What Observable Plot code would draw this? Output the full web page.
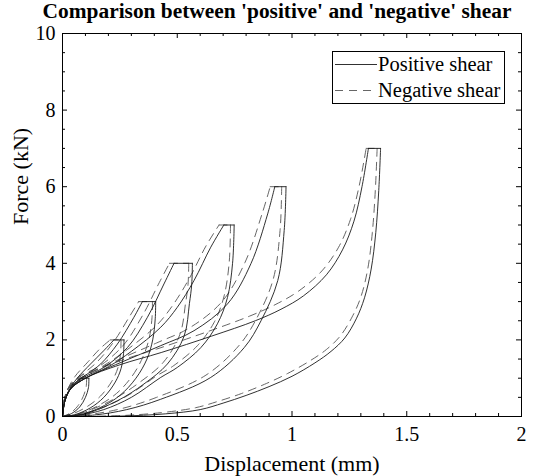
<!DOCTYPE html>
<html><head><meta charset="utf-8">
<script src="https://cdn.jsdelivr.net/npm/d3@7"></script>
<script src="https://cdn.jsdelivr.net/npm/@observablehq/plot@0.6"></script>
<style>
body{margin:0;background:#fff;}
#wrap{position:relative;width:541px;height:476px;font-family:"Liberation Serif","DejaVu Serif",serif;}
#wrap svg text{font-family:"Liberation Serif","DejaVu Serif",serif;}
#legend{position:absolute;left:0;top:0;}
</style></head><body><div id="wrap"></div>
<script>
// Peak force of each loading cycle (kN)
const cyclePeaks = [1, 2, 3, 4, 5, 6, 7];
const seriesNames = ["Positive shear", "Negative shear"];
const title = "Comparison between 'positive' and 'negative' shear";
const xLabel = "Displacement (mm)";
const yLabel = "Force (kN)";

// Positive shear loops: [displacement (mm), force (kN)] — loading, plateau at peak, unloading
const pos1 = [[0,0],[0.008,0.35],[0.025,0.65],[0.05,0.85],[0.08,1.0],[0.115,1.0],[0.113,0.75],[0.1,0.5],[0.075,0.25],[0.04,0.08],[0,0]];
const pos2 = [[0,0],[0.01,0.4],[0.03,0.7],[0.064,1.0],[0.122,1.37],[0.18,1.72],[0.224,2.0],[0.268,2.0],[0.266,1.65],[0.255,1.25],[0.23,0.9],[0.18,0.5],[0.12,0.22],[0.05,0.04],[0,0]];
const pos3 = [[0,0],[0.01,0.4],[0.035,0.72],[0.07,0.95],[0.108,1.11],[0.166,1.37],[0.239,1.89],[0.311,2.59],[0.348,3.0],[0.406,3.0],[0.404,2.55],[0.393,2.0],[0.368,1.5],[0.32,1.0],[0.25,0.55],[0.16,0.22],[0.07,0.04],[0,0]];
const pos4 = [[0,0],[0.01,0.4],[0.035,0.72],[0.093,1.02],[0.18,1.28],[0.283,1.8],[0.37,2.59],[0.442,3.46],[0.486,4.0],[0.566,4.0],[0.563,3.45],[0.553,2.95],[0.53,2.1],[0.457,1.37],[0.355,0.85],[0.239,0.41],[0.093,0.06],[0,0]];
const pos5 = [[0,0],[0.01,0.4],[0.035,0.72],[0.1,1.0],[0.2,1.3],[0.3,1.7],[0.428,2.33],[0.5,2.85],[0.573,3.55],[0.646,4.42],[0.703,5.0],[0.748,5.0],[0.741,4.0],[0.719,3.11],[0.675,2.42],[0.603,1.8],[0.5,1.28],[0.428,1.02],[0.3,0.5],[0.18,0.18],[0.07,0.03],[0,0]];
const pos6 = [[0,0],[0.01,0.4],[0.035,0.72],[0.1,1.0],[0.25,1.4],[0.428,1.85],[0.573,2.24],[0.719,2.94],[0.821,3.99],[0.894,5.29],[0.925,6.0],[0.974,6.0],[0.966,4.86],[0.938,3.55],[0.865,2.5],[0.792,1.8],[0.646,1.02],[0.428,0.45],[0.28,0.18],[0.14,0.04],[0,0]];
const pos7 = [[0,0],[0.01,0.4],[0.035,0.72],[0.1,1.0],[0.25,1.35],[0.43,1.67],[0.65,2.1],[0.84,2.5],[0.952,2.8],[1.05,3.15],[1.15,3.7],[1.22,4.35],[1.27,5.1],[1.305,6.0],[1.333,7.0],[1.386,7.0],[1.378,5.9],[1.365,4.8],[1.345,3.85],[1.316,3.1],[1.28,2.55],[1.23,2.05],[1.17,1.7],[1.1,1.4],[1.0,1.05],[0.9,0.78],[0.8,0.55],[0.7,0.35],[0.6,0.18],[0.45,0.07],[0.25,0.01],[0,0]];

// Negative shear loops: [displacement (mm), force (kN)]
const neg1 = [[0,0],[0.006,0.38],[0.02,0.68],[0.045,0.9],[0.07,1.0],[0.105,1.0],[0.103,0.77],[0.09,0.52],[0.066,0.27],[0.034,0.09],[0,0]];
const neg2 = [[0,0],[0.008,0.43],[0.025,0.74],[0.055,1.05],[0.11,1.42],[0.165,1.78],[0.208,2.0],[0.255,2.0],[0.253,1.66],[0.242,1.28],[0.215,0.92],[0.165,0.53],[0.105,0.25],[0.04,0.06],[0,0]];
const neg3 = [[0,0],[0.008,0.43],[0.028,0.75],[0.06,0.98],[0.095,1.14],[0.15,1.42],[0.222,1.94],[0.295,2.64],[0.332,3.0],[0.392,3.0],[0.39,2.58],[0.378,2.05],[0.35,1.55],[0.303,1.05],[0.235,0.6],[0.148,0.26],[0.06,0.05],[0,0]];
const neg4 = [[0,0],[0.008,0.43],[0.028,0.75],[0.082,1.06],[0.165,1.33],[0.265,1.86],[0.35,2.65],[0.422,3.5],[0.466,4.0],[0.55,4.0],[0.547,3.45],[0.536,2.95],[0.512,2.15],[0.44,1.42],[0.338,0.9],[0.222,0.45],[0.08,0.08],[0,0]];
const neg5 = [[0,0],[0.008,0.43],[0.028,0.75],[0.09,1.04],[0.185,1.35],[0.285,1.76],[0.41,2.38],[0.48,2.9],[0.552,3.6],[0.625,4.45],[0.682,5.0],[0.732,5.0],[0.726,4.0],[0.703,3.12],[0.66,2.45],[0.588,1.85],[0.485,1.33],[0.41,1.06],[0.285,0.55],[0.165,0.21],[0.06,0.04],[0,0]];
const neg6 = [[0,0],[0.008,0.43],[0.028,0.75],[0.09,1.04],[0.235,1.46],[0.41,1.92],[0.555,2.32],[0.695,3.0],[0.795,4.02],[0.87,5.3],[0.905,6.0],[0.955,6.0],[0.948,4.86],[0.918,3.58],[0.845,2.55],[0.77,1.86],[0.625,1.08],[0.41,0.5],[0.26,0.21],[0.125,0.06],[0,0]];
const neg7 = [[0,0],[0.008,0.43],[0.028,0.75],[0.09,1.04],[0.235,1.42],[0.41,1.76],[0.625,2.2],[0.815,2.62],[0.93,2.93],[1.03,3.28],[1.13,3.8],[1.203,4.42],[1.255,5.15],[1.292,6.0],[1.323,7.0],[1.371,7.0],[1.363,5.9],[1.35,4.8],[1.33,3.85],[1.3,3.12],[1.262,2.6],[1.21,2.1],[1.15,1.75],[1.08,1.46],[0.98,1.12],[0.88,0.84],[0.78,0.6],[0.68,0.4],[0.58,0.23],[0.43,0.1],[0.24,0.02],[0,0]];

// Axis ticks
const xMajor = [0, 0.5, 1, 1.5, 2];
const xMinor = [0.1,0.2,0.3,0.4,0.6,0.7,0.8,0.9,1.1,1.2,1.3,1.4,1.6,1.7,1.8,1.9];
const yMajor = [0, 2, 4, 6, 8, 10];
const yMinor = [0.5,1,1.5,2.5,3,3.5,4.5,5,5.5,6.5,7,7.5,8.5,9,9.5];

const posLoops = [pos1, pos2, pos3, pos4, pos5, pos6, pos7];
const negLoops = [neg1, neg2, neg3, neg4, neg5, neg6, neg7];
// split each loop into loading branch, peak plateau and unloading branch
function toRows(loops, s) {
  const rows = [];
  loops.forEach((pts, i) => {
    const peak = cyclePeaks[i];
    const k = pts.findIndex(p => p[1] === peak);
    const parts = {load: pts.slice(0, k + 1), top: pts.slice(k, k + 2), unload: pts.slice(k + 1)};
    for (const [b, arr] of Object.entries(parts)) arr.forEach(([x, y]) => rows.push({series: s, key: `${peak}-${b}`, x, y}));
  });
  return rows;
}
const posData = toRows(posLoops, seriesNames[0]);
const negData = toRows(negLoops, seriesNames[1]);

const W = 541, H = 476, mt = 33, mb = 60, ml = 62, mr = 20;
const ph = H - mt - mb, pw = W - ml - mr;
const MAJ = 5, MIN = 3;
const FONT = '"Liberation Serif", "DejaVu Serif", serif';

const chart = Plot.plot({
  width: W, height: H,
  marginTop: mt, marginBottom: mb, marginLeft: ml, marginRight: mr,
  style: {fontFamily: FONT, fontSize: "20px", color: "#000", background: "#fff", overflow: "visible"},
  x: {domain: [0, 2]},
  y: {domain: [0, 10]},
  marks: [
    Plot.line(negData, {x: "x", y: "y", z: "key", stroke: "#555", strokeWidth: 0.9, strokeDasharray: "8,6", curve: "catmull-rom"}),
    Plot.line(posData, {x: "x", y: "y", z: "key", stroke: "#1a1a1a", strokeWidth: 0.9, curve: "catmull-rom"}),
    Plot.frame({stroke: "#000", strokeWidth: 1}),
    Plot.tickX(xMajor, {insetTop: ph - MAJ, stroke: "#000"}),
    Plot.tickX(xMajor, {insetBottom: ph - MAJ, stroke: "#000"}),
    Plot.tickX(xMinor, {insetTop: ph - MIN, stroke: "#000"}),
    Plot.tickX(xMinor, {insetBottom: ph - MIN, stroke: "#000"}),
    Plot.tickY(yMajor, {insetRight: pw - MAJ, stroke: "#000"}),
    Plot.tickY(yMajor, {insetLeft: pw - MAJ, stroke: "#000"}),
    Plot.tickY(yMinor, {insetRight: pw - MIN, stroke: "#000"}),
    Plot.tickY(yMinor, {insetLeft: pw - MIN, stroke: "#000"}),
    Plot.axisX(xMajor, {tickSize: 0, tickPadding: 10, tickFormat: d => String(d), fontSize: 20, label: null}),
    Plot.axisY(yMajor, {tickSize: 0, tickPadding: 7, tickFormat: d => String(d), fontSize: 20, label: null}),
    Plot.text([xLabel], {frameAnchor: "bottom", lineAnchor: "middle", dy: 47, fontSize: 22}),
    Plot.text([yLabel], {frameAnchor: "left", lineAnchor: "middle", dx: -42, rotate: -90, fontSize: 22}),
    Plot.text([title], {frameAnchor: "top", lineAnchor: "middle", dy: -22, dx: -15, fontSize: 21.4, fontWeight: "bold"})
  ]
});
const wrap = document.getElementById("wrap");
wrap.appendChild(chart);

// Legend (boxed, top right inside the axes)
const lg = d3.select(wrap).append("svg").attr("id", "legend").attr("width", W).attr("height", H)
  .style("font-family", FONT);
lg.append("rect").attr("x", 332.5).attr("y", 51.5).attr("width", 172).attr("height", 52)
  .attr("fill", "#fff").attr("stroke", "#000").attr("stroke-width", 1);
const rowsL = [{name: seriesNames[0], dash: null, stroke: "#1a1a1a", y: 64.5}, {name: seriesNames[1], dash: "8,6", stroke: "#555", y: 90.5}];
rowsL.forEach(r => {
  lg.append("line").attr("x1", 335).attr("x2", 377).attr("y1", r.y).attr("y2", r.y)
    .attr("stroke", r.stroke).attr("stroke-width", 0.9).attr("stroke-dasharray", r.dash);
  lg.append("text").attr("x", 378).attr("y", r.y).attr("dy", "0.33em").attr("font-size", 20.5).attr("fill", "#000").text(r.name);
});
</script></body></html>
